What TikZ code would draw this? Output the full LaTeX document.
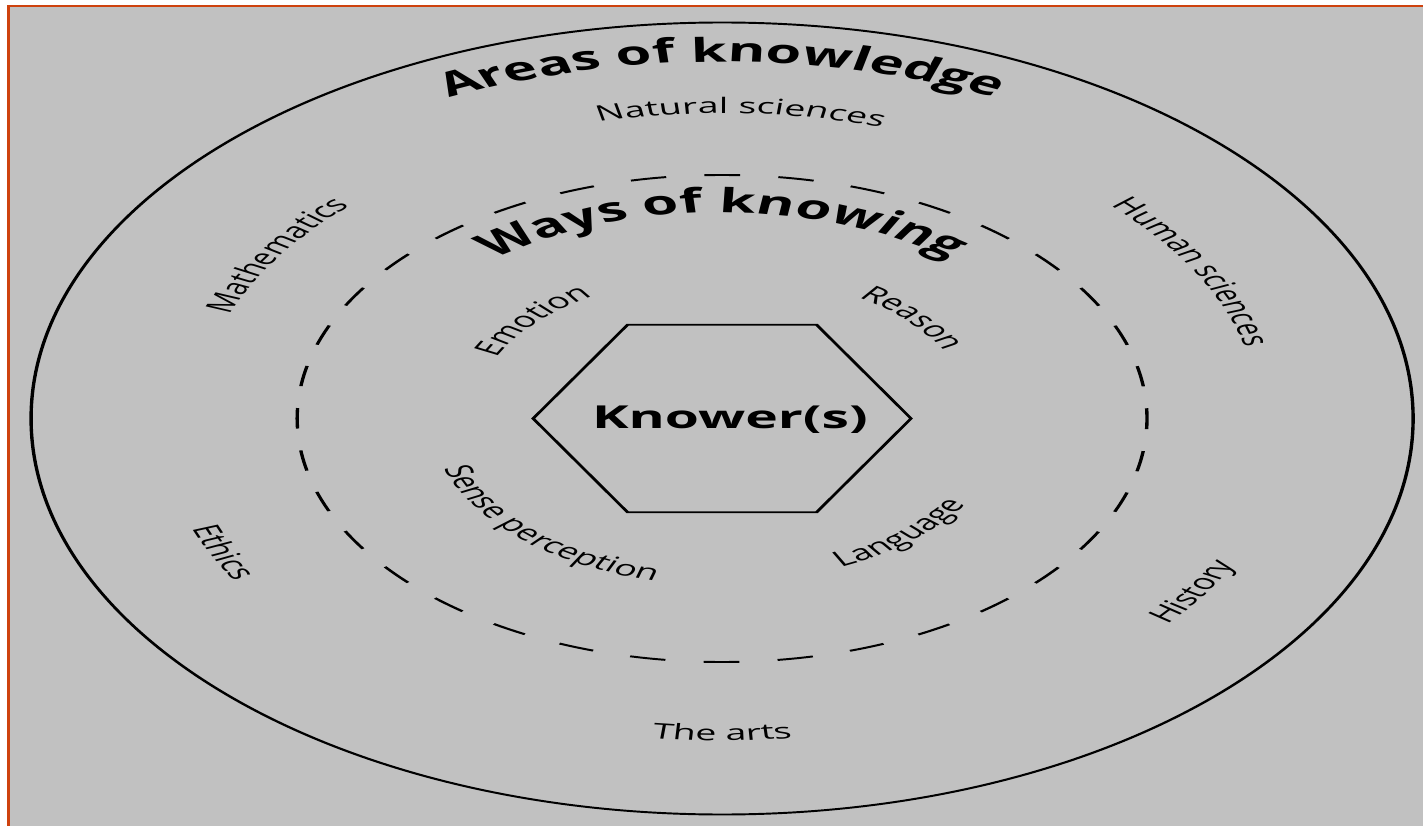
\documentclass[tikz,border=0pt]{standalone}
\usepackage{fontspec}
\setmainfont{Open Sans}
\usetikzlibrary{shapes.geometric,decorations.text}

\definecolor{panel}{RGB}{193,193,193}
\definecolor{rim}{RGB}{206,66,14}
\newcommand{\lbl}{\fontsize{12.2}{14}\selectfont}
\newcommand{\hda}{\bfseries\fontsize{18.8}{22}\selectfont}
\newcommand{\hdw}{\bfseries\fontsize{19}{22}\selectfont}
\newcommand{\toparc}[4]{\path[decorate,decoration={text along path,text align=center,text={|#4|#3}}]
  (c) ++(#1+70:#2) arc[start angle=#1+70,end angle=#1-70,radius=#2];}
\newcommand{\botarc}[4]{\path[decorate,decoration={text along path,text align=center,text={|#4|#3}}]
  (c) ++(#1-70:#2) arc[start angle=#1-70,end angle=#1+70,radius=#2];}

\begin{document}
\begin{tikzpicture}[x=0.02cm,y=0.02cm,
    ring/.style={line width=1.1pt},
    dashring/.style={line width=1.1pt,dash pattern=on 0.41cm off 0.44cm,dash phase=0.205cm},
    hexbox/.style={draw,line width=1.1pt,regular polygon,regular polygon sides=6,
      minimum size=4.332cm,inner sep=0pt,outer sep=0pt}]
      \useasboundingbox (0,0) rectangle (1423,826);
      \fill[white] (0,0) rectangle (1423,826);
      \fill[rim] (7,0) rectangle (1423,821);
      \fill[panel] (10,0) rectangle (1423,818.5);

      \begin{scope}[transform canvas={xscale=1.745}]
      \coordinate (c) at (413.8,407.5);
      \draw[ring] (c) circle[radius=396];
      \draw[dashring] (c) circle[radius=243.5];
      \node[hexbox] (hex) at (c) {};
      \node[anchor=base,font=\bfseries\fontsize{18}{22}\selectfont] (knower) at (418.3,398) {Knower(s)};

      \toparc{90}{356.5}{Areas of knowledge}{\hda}
      \toparc{88}{305}{Natural sciences}{\lbl}
      \toparc{147.4}{301}{Mathematics}{\lbl}
      \toparc{28.6}{308}{Human sciences}{\lbl}
      \botarc{205}{323}{Ethics}{\lbl}
      \botarc{-32.7}{328}{History}{\lbl}
      \botarc{-90}{322}{The arts}{\lbl}

      \toparc{90}{206}{Ways of knowing}{\hdw}
      \toparc{138}{143}{Emotion}{\lbl}
      \toparc{42.6}{144}{Reason}{\lbl}
      \botarc{227}{167}{Sense perception}{\lbl}
      \botarc{-48.6}{164}{Language}{\lbl}
      \end{scope}
    \end{tikzpicture}
\end{document}
